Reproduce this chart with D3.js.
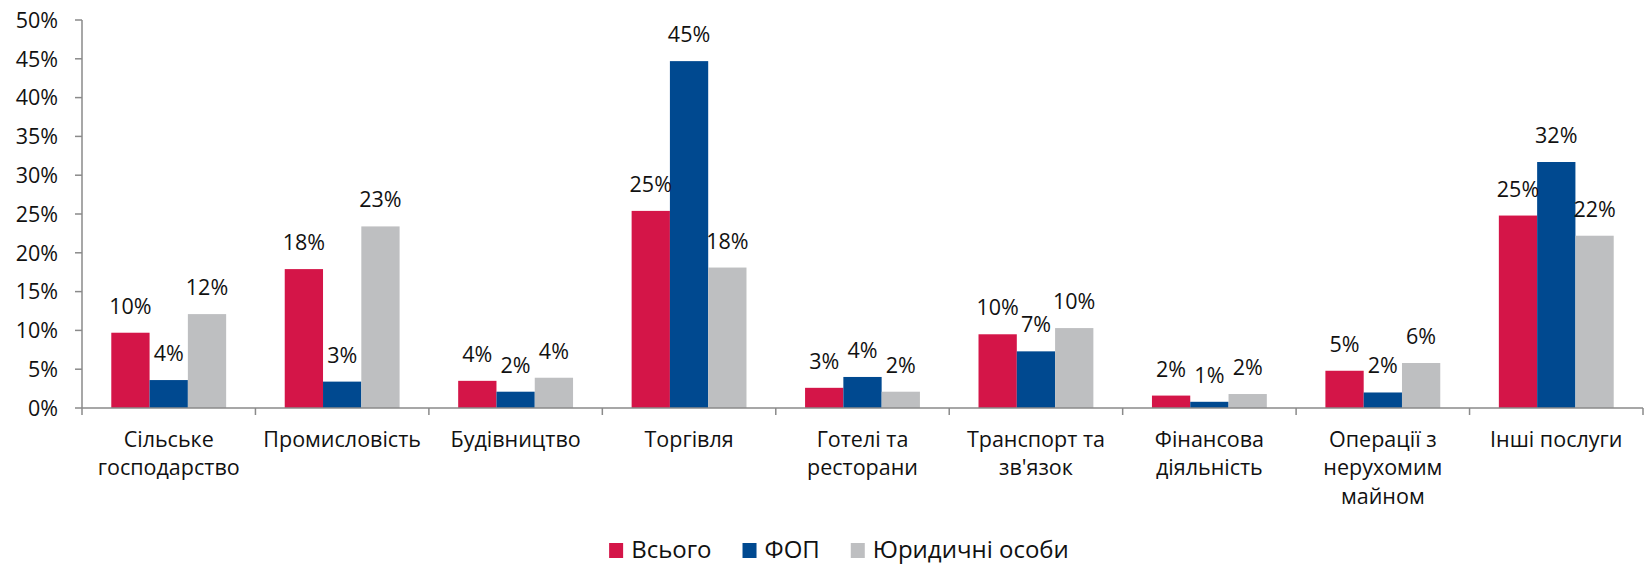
<!DOCTYPE html>
<html>
<head>
<meta charset="utf-8">
<script src="https://cdn.jsdelivr.net/npm/d3@7"></script>
<style>
  html, body { margin: 0; padding: 0; background: #fff; }
  svg { display: block; font-family: "Open Sans", "Noto Sans", sans-serif; }
</style>
</head>
<body>
<svg id="chart" width="1645" height="565"></svg>
<script>
const categories = [
  ["Сільське", "господарство"],
  ["Промисловість"],
  ["Будівництво"],
  ["Торгівля"],
  ["Готелі та", "ресторани"],
  ["Транспорт та", "зв'язок"],
  ["Фінансова", "діяльність"],
  ["Операції з", "нерухомим", "майном"],
  ["Інші послуги"]
];
const seriesNames = ["Всього", "ФОП", "Юридичні особи"];
const valuesTotal = [9.7, 17.9, 3.5, 25.4, 2.6, 9.5, 1.6, 4.8, 24.8];
const valuesFOP   = [3.6, 3.4, 2.1, 44.7, 4.0, 7.3, 0.8, 2.0, 31.7];
const valuesLegal = [12.1, 23.4, 3.9, 18.1, 2.1, 10.3, 1.8, 5.8, 22.2];
const yTicks = [0, 5, 10, 15, 20, 25, 30, 35, 40, 45, 50];

(function() {
const colors = ["#D41548", "#004990", "#BEBFC1"];
const seriesValues = [valuesTotal, valuesFOP, valuesLegal];

const svg = d3.select("#chart");
const FS = "21.5px";
const LFS = "24px";
const axisColor = "#8a8a8a";

const mLeft = 82, mRight = 1643, mTop = 20, mBottom = 408;

const x = d3.scaleBand().domain(d3.range(categories.length)).range([mLeft, mRight]).paddingInner(0).paddingOuter(0);
const xs = d3.scaleBand().domain(d3.range(seriesNames.length)).range([0, x.bandwidth()]).paddingInner(0).paddingOuter(0.765);
const y = d3.scaleLinear().domain([0, 50]).range([mBottom, mTop]);

// bars
seriesValues.forEach((vals, si) => {
  svg.append("g").selectAll("rect").data(vals).join("rect")
    .attr("x", (d, i) => x(i) + xs(si))
    .attr("y", d => y(d))
    .attr("width", xs.bandwidth())
    .attr("height", d => y(0) - y(d))
    .attr("fill", colors[si]);
});

// data labels
seriesValues.forEach((vals, si) => {
  svg.append("g").selectAll("text").data(vals).join("text")
    .attr("x", (d, i) => x(i) + xs(si) + xs.bandwidth() / 2)
    .attr("y", d => y(d) - 19)
    .attr("text-anchor", "middle")
    .attr("font-size", FS)
    .attr("fill", "#111")
    .text(d => Math.round(d) + "%");
});

// y axis
const yAxis = svg.append("g");
yAxis.append("line").attr("x1", mLeft).attr("x2", mLeft).attr("y1", y(50)).attr("y2", y(0))
  .attr("stroke", axisColor).attr("stroke-width", 1.5);
yAxis.selectAll("line.tick").data(yTicks).join("line").attr("class", "tick")
  .attr("x1", mLeft - 7).attr("x2", mLeft).attr("y1", d => y(d)).attr("y2", d => y(d))
  .attr("stroke", axisColor).attr("stroke-width", 1.5);
yAxis.selectAll("text").data(yTicks).join("text")
  .attr("x", 58).attr("y", d => y(d)).attr("dy", "0.36em")
  .attr("text-anchor", "end").attr("font-size", FS).attr("fill", "#111")
  .text(d => d + "%");

// x axis
const xAxis = svg.append("g");
xAxis.append("line").attr("x1", mLeft).attr("x2", mRight).attr("y1", y(0)).attr("y2", y(0))
  .attr("stroke", axisColor).attr("stroke-width", 1.5);
const boundaries = d3.range(categories.length + 1).map(i => i < categories.length ? x(i) : x(i - 1) + x.bandwidth());
xAxis.selectAll("line.tick").data(boundaries).join("line").attr("class", "tick")
  .attr("x1", d => d).attr("x2", d => d).attr("y1", y(0)).attr("y2", y(0) + 7)
  .attr("stroke", axisColor).attr("stroke-width", 1.5);
const catText = xAxis.selectAll("text").data(categories).join("text")
  .attr("x", (d, i) => x(i) + x.bandwidth() / 2)
  .attr("y", 447)
  .attr("text-anchor", "middle").attr("font-size", FS).attr("fill", "#111");
catText.selectAll("tspan").data(d => d).join("tspan")
  .attr("x", function() { return d3.select(this.parentNode).attr("x"); })
  .attr("dy", (d, i) => i === 0 ? 0 : 28.3)
  .text(d => d);

// legend
const legend = svg.append("g");
const items = legend.selectAll("g").data(seriesNames).join("g");
items.append("rect").attr("width", 14).attr("height", 15).attr("y", 543)
  .attr("fill", (d, i) => colors[i]);
items.append("text").attr("x", 22).attr("y", 558).attr("font-size", LFS).attr("fill", "#111").text(d => d);
let cx = 0;
const offsets = [];
items.each(function(d, i) {
  const w = 22 + this.querySelector("text").getComputedTextLength();
  offsets.push(cx);
  cx += w + 31;
});
const total = cx - 31;
const startX = 839 - total / 2;
items.attr("transform", (d, i) => `translate(${startX + offsets[i]},0)`);
})();
</script>
</body>
</html>
